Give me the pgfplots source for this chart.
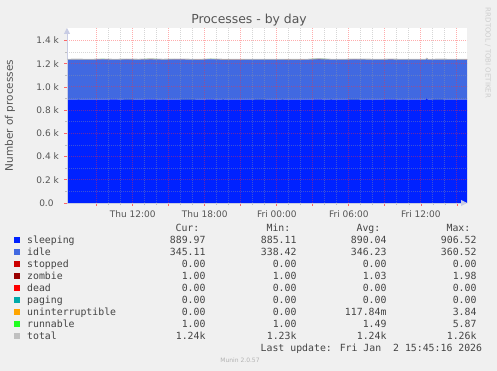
\documentclass[border=0pt]{standalone}
\usepackage{pgfplots}
\pgfplotsset{compat=1.18}
\usepackage{pgfplotstable}
\usepackage{fontspec}
\setmainfont{DejaVu Sans}
\newfontfamily\monof{DejaVu Sans Mono}
\usetikzlibrary{arrows.meta}
\definecolor{bgc}{HTML}{F0F0F0}
\definecolor{txtc}{HTML}{555555}
\definecolor{axc}{HTML}{C8CCE4}
\definecolor{sleepc}{HTML}{0022FF}
\definecolor{idlec}{HTML}{4169E1}
\definecolor{stopc}{HTML}{CC0000}
\definecolor{zombc}{HTML}{990000}
\definecolor{deadc}{HTML}{FF0000}
\definecolor{pagec}{HTML}{00AAAA}
\definecolor{uninc}{HTML}{FFA500}
\definecolor{runc}{HTML}{22FF22}
\definecolor{totc}{HTML}{C0C0C0}

\pgfplotstableread{
x s i st z d p u r tot
6.52 890 346 0 1 0 0 0 1.5 1238.5
7.5 889 347 0 1 0 0 0 2 1239
8.5 891 345 0 1 0 0 0 1 1238
9.5 890 348 0 1 0 0 0 1.5 1240.5
10.5 892 344 0 1 0 0 0 1 1238
11.5 888 349 0 1 0 0 0 2 1240
12.5 890 346 0 1 0 0 0 1.5 1238.5
13.5 893 343 0 1 0 0 3.84 1 1241.84
14.5 889 347 0 1 0 0 0 1.5 1238.5
15.5 891 346 0 1 0 0 0 2 1240
16.5 887 350 0 1 0 0 0 1 1239
17.5 890 345 0 1 0 0 0 1.5 1237.5
18.5 892 347 0 1 0 0 0 1 1241
19.5 889 346 0 1 0 0 0 2.5 1238.5
20.5 890 344 0 1.98 0 0 0 1.5 1237.48
21.5 891 345 0 1 0 0 0 1 1238
22.5 888 348 0 1 0 0 0 1.5 1238.5
23.5 890 346 0 1 0 0 0 1 1238
24.5 889 347 0 1 0 0 0 1.5 1238.5
25.5 891 343 0 1 0 0 0 2 1237
26.5 890 346 0 1 0 0 0 1 1238
27.5 892 345 0 1 0 0 0 5.87 1243.87
28.5 889 347 0 1 0 0 0 1.5 1238.5
29.5 890 346 0 1 0 0 0 1 1238
30.5 888 349 0 1 0 0 0.5 1.5 1240
31.5 891 345 0 1 0 0 0 2 1239
32.5 890 346 0 1 0 0 0 1 1238
33.5 893 344 0 1 0 0 0 1.5 1239.5
34.5 889 347 0 1 0 0 0 1 1238
35.5 891 345 0 1 0 0 0 1.5 1238.5
36.42 890 346 0 1 0 0 0 1 1238
36.5 906.5 338.5 0 1 0 0 0 1 1247
36.58 890 346 0 1 0 0 0 1 1238
37.5 888 348 0 1 0 0 0 2 1239
38.5 891 345 0 1 0 0 0 1.5 1238.5
39.5 890 346 0 1 0 0 0 1 1238
39.85 890 345 0 1 0 0 0 1 1237
}\proc

\pgfplotsset{
  munin/.style={
    at={(67pt,168pt)}, anchor=south west,
    scale only axis, width=400pt, height=175pt,
    xmin=6.52, xmax=39.85, ymin=0, ymax=1507,
    enlargelimits=false,
  }
}

\begin{document}
\begin{tikzpicture}
\path[use as bounding box, fill=bgc] (0pt,0pt) rectangle (497pt,371pt);
\begin{axis}[munin,
  stack plots=y,
  axis background/.style={fill=white},
  axis on top,
  axis x line=bottom, axis y line=left,
  axis line style={draw=axc, line width=0.8pt, -{Triangle[length=6pt,width=6pt]}},
  xtick={9,12,...,39},
  xticklabels={,Thu 12:00,,Thu 18:00,,Fri 00:00,,Fri 06:00,,Fri 12:00,},
  minor x tick num=2,
  ytick={0,200,...,1400},
  yticklabels={0.0\phantom{k},0.2 k,0.4 k,0.6 k,0.8 k,1.0 k,1.2 k,1.4 k},
  minor y tick num=1,
  grid=both,
  major grid style={draw=red!80!white, opacity=0.4, line width=0.8pt, dash pattern=on 0.8pt off 1.2pt},
  minor grid style={draw=gray!80, opacity=0.4, line width=0.8pt, dash pattern=on 0.8pt off 1.2pt},
  tick align=outside,
  major tick length=3pt, minor tick length=2pt,
  major tick style={draw=red!60, line width=0.6pt},
  minor tick style={draw=gray!50, line width=0.6pt},
  tick label style={font=\fontsize{9}{10}\selectfont, text=txtc},
  yticklabel style={inner sep=0pt, xshift=-5pt},
  xticklabel style={inner sep=0pt, yshift=-4pt},
]
\addplot[draw=none, fill=sleepc] table[x=x,y=s]{\proc} \closedcycle;
\addplot[draw=none, fill=idlec] table[x=x,y=i]{\proc} \closedcycle;
\addplot[draw=none, fill=stopc] table[x=x,y=st]{\proc} \closedcycle;
\addplot[draw=none, fill=zombc] table[x=x,y=z]{\proc} \closedcycle;
\addplot[draw=none, fill=deadc] table[x=x,y=d]{\proc} \closedcycle;
\addplot[draw=none, fill=pagec] table[x=x,y=p]{\proc} \closedcycle;
\addplot[draw=none, fill=uninc] table[x=x,y=u]{\proc} \closedcycle;
\addplot[draw=none, fill=runc] table[x=x,y=r]{\proc} \closedcycle;
\end{axis}
\begin{axis}[munin, hide axis]
\addplot[draw=totc, line width=0.8pt] table[x=x,y=tot]{\proc};
\end{axis}

% title and labels
\node[text=txtc, font=\fontsize{12.4}{14}\selectfont] at (249pt,351pt) {Processes - by day};
\node[text=txtc, font=\fontsize{10.5}{12}\selectfont, rotate=90] at (10pt,255.5pt) {Number of processes};
\node[text=totc!80, font=\fontsize{7}{8}\selectfont, rotate=-90] at (488pt,318pt) {RRDTOOL / TOBI OETIKER};
\node[text=gray!60, font=\fontsize{6}{7}\selectfont] at (240pt,11pt) {Munin 2.0.57};

% legend
\begin{scope}[every node/.style={inner sep=0pt, text=txtc!80!black, font=\monof\fontsize{9.85}{12}\selectfont}]
\node[anchor=base east] at (199.5pt,139.5pt) {Cur:};
\node[anchor=base east] at (290.5pt,139.5pt) {Min:};
\node[anchor=base east] at (380.5pt,139.5pt) {Avg:};
\node[anchor=base east] at (470.5pt,139.5pt) {Max:};
\foreach \name/\col/\cu/\mn/\av/\mx [count=\k from 0] in {
  sleeping/sleepc/889.97/885.11/890.04/906.52,
  idle/idlec/345.11/338.42/346.23/360.52,
  stopped/stopc/0.00/0.00/0.00/0.00,
  zombie/zombc/1.00/1.00/1.03/1.98,
  dead/deadc/0.00/0.00/0.00/0.00,
  paging/pagec/0.00/0.00/0.00/0.00,
  uninterruptible/uninc/0.00/0.00/117.84m/3.84,
  runnable/runc/1.00/1.00/1.49/5.87,
  total/totc/1.24k/1.23k/1.24k/1.26k}{
  \pgfmathsetmacro\yy{127.5-12*\k}
  \fill[\col] (14pt,\yy pt+0.5pt) rectangle (20pt,\yy pt+6.5pt);
  \node[anchor=base west] at (27pt,\yy pt) {\name};
  \node[anchor=base east] at (205.7pt,\yy pt) {\cu};
  \node[anchor=base east] at (296.7pt,\yy pt) {\mn};
  \node[anchor=base east] at (386.7pt,\yy pt) {\av};
  \node[anchor=base east] at (476.7pt,\yy pt) {\mx};
}
\node[anchor=base east] at (482.3pt,19.7pt) {Last update: Fri Jan\ \ 2 15:45:16 2026};
\end{scope}
\end{tikzpicture}
\end{document}
